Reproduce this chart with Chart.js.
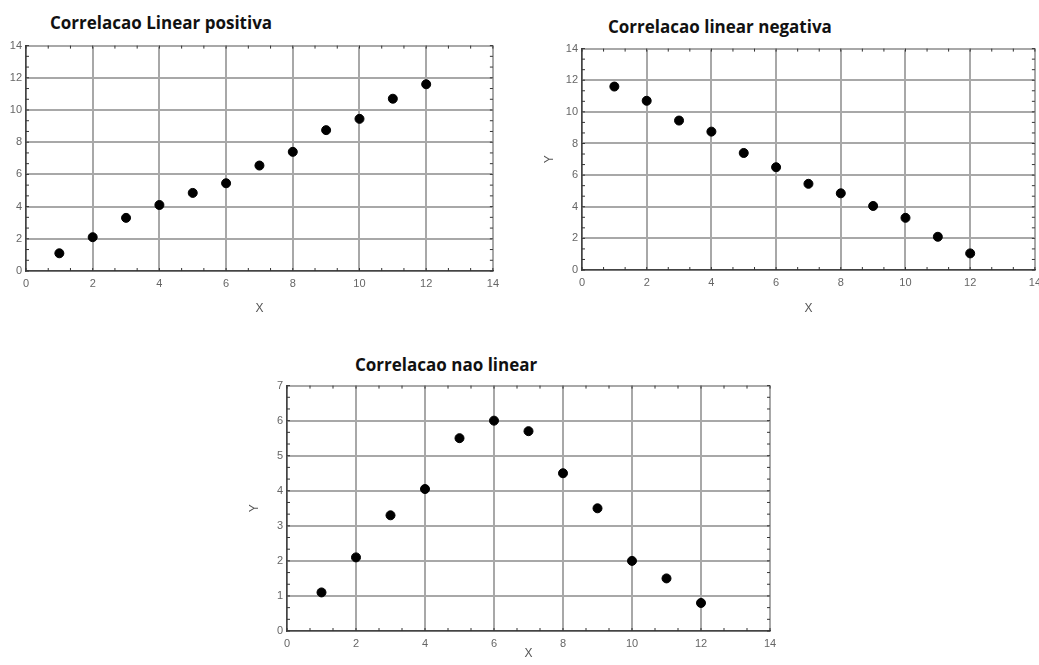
<!DOCTYPE html>
<html>
<head>
<meta charset="utf-8">
<script src="https://cdn.jsdelivr.net/npm/chart.js@4.4.1/dist/chart.umd.min.js"></script>
<style>
  body { margin: 0; background: #fff; width: 1039px; height: 665px; position: relative; overflow: hidden; }
  .title { position: absolute; font-family: "Open Sans", sans-serif; font-weight: bold; font-size: 17px; color: #111; white-space: nowrap; line-height: 23px; }
  .box { position: absolute; }
</style>
</head>
<body>
<div class="title" style="left:50px;top:11px">Correlacao Linear positiva</div>
<div class="title" style="left:608px;top:15px">Correlacao linear negativa</div>
<div class="title" style="left:355px;top:353px">Correlacao nao linear</div>

<div class="box" style="left:0px;top:35px;width:505px;height:285px"><canvas id="chartPos"></canvas></div>
<div class="box" style="left:520px;top:38px;width:527px;height:282px"><canvas id="chartNeg"></canvas></div>
<div class="box" style="left:230px;top:375px;width:560px;height:290px"><canvas id="chartNonLin"></canvas></div>

<script>
  const xValues = [1, 2, 3, 4, 5, 6, 7, 8, 9, 10, 11, 12];
  const positiveY = [1.1, 2.1, 3.3, 4.1, 4.85, 5.45, 6.55, 7.4, 8.75, 9.45, 10.7, 11.6];
  const negativeY = [11.6, 10.7, 9.45, 8.75, 7.4, 6.5, 5.45, 4.85, 4.05, 3.3, 2.1, 1.05];
  const nonLinearY = [1.1, 2.1, 3.3, 4.05, 5.5, 6.0, 5.7, 4.5, 3.5, 2.0, 1.5, 0.8];

  const xTicks = [0, 2, 4, 6, 8, 10, 12, 14];
  const yTicksLinear = [0, 2, 4, 6, 8, 10, 12, 14];
  const yTicksNonLinear = [0, 1, 2, 3, 4, 5, 6, 7];

  // small minor tick marks along the frame, like the original plots
  const minorTicks = {
    id: 'minorTicks',
    afterDraw(chart, args, opts) {
      const { ctx, chartArea: a, scales } = chart;
      ctx.save();
      ctx.strokeStyle = '#333';
      ctx.lineWidth = 1;
      const xs = scales.x, ys = scales.y;
      for (let v = xs.min; v <= xs.max + 1e-6; v += opts.xStep) {
        const p = xs.getPixelForValue(v);
        ctx.beginPath();
        ctx.moveTo(p, a.bottom); ctx.lineTo(p, a.bottom - 3);
        ctx.moveTo(p, a.top); ctx.lineTo(p, a.top + 3);
        ctx.stroke();
      }
      for (let v = ys.min; v <= ys.max + 1e-6; v += opts.yStep) {
        const p = ys.getPixelForValue(v);
        ctx.beginPath();
        ctx.moveTo(a.left, p); ctx.lineTo(a.left + 3, p);
        ctx.moveTo(a.right, p); ctx.lineTo(a.right - 3, p);
        ctx.stroke();
      }
      ctx.restore();
    }
  };

  function makeScatter(id, yValues, yTicks, yTitle, yWidth, xHeight, padLeft, padRight, minorY) {
    const points = xValues.map((x, i) => ({ x: x, y: yValues[i] }));
    return new Chart(document.getElementById(id), {
      type: 'scatter',
      data: {
        datasets: [{
          data: points,
          backgroundColor: '#000',
          borderColor: '#000',
          pointRadius: 4.5,
          pointHoverRadius: 4.5
        }]
      },
      options: {
        responsive: true,
        maintainAspectRatio: false,
        animation: false,
        layout: { padding: { top: 8, right: padRight, left: padLeft, bottom: 0 } },
        plugins: {
          legend: { display: false },
          tooltip: { enabled: false },
          minorTicks: { xStep: 2 / 3, yStep: minorY }
        },
        scales: {
          x: {
            type: 'linear',
            min: xTicks[0],
            max: xTicks[xTicks.length - 1],
            afterBuildTicks: s => { s.ticks = xTicks.map(v => ({ value: v })); },
            afterFit: s => { s.height = xHeight; },
            grid: { color: '#a8a8a8', lineWidth: 2, drawTicks: false },
            border: { color: '#444', width: 1.5 },
            ticks: { color: '#666', font: { family: 'Liberation Sans', size: 11 }, padding: 6, maxRotation: 0 },
            title: { display: true, text: 'X', color: '#555', font: { family: 'Liberation Sans', size: 12 }, padding: { top: 6 } }
          },
          y: {
            type: 'linear',
            min: yTicks[0],
            max: yTicks[yTicks.length - 1],
            afterBuildTicks: s => { s.ticks = yTicks.map(v => ({ value: v })); },
            afterFit: s => { s.width = yWidth; },
            grid: { color: '#a8a8a8', lineWidth: 2, drawTicks: false },
            border: { color: '#444', width: 1.5 },
            ticks: { color: '#666', font: { family: 'Liberation Sans', size: 11 }, padding: 4 },
            title: { display: !!yTitle, text: yTitle, color: '#555', font: { family: 'Liberation Sans', size: 12 }, padding: { bottom: 4 } }
          }
        }
      },
      plugins: [minorTicks]
    });
  }

  const chartPos = makeScatter('chartPos', positiveY, yTicksLinear, '', 26, 49, 0, 9, 2 / 3);
  const chartNeg = makeScatter('chartNeg', negativeY, yTicksLinear, 'Y', 44, 50, 18, 6, 2 / 3);
  const chartNonLin = makeScatter('chartNonLin', nonLinearY, yTicksNonLinear, 'Y', 44, 34, 13, 20, 1 / 3);
</script>
</body>
</html>
